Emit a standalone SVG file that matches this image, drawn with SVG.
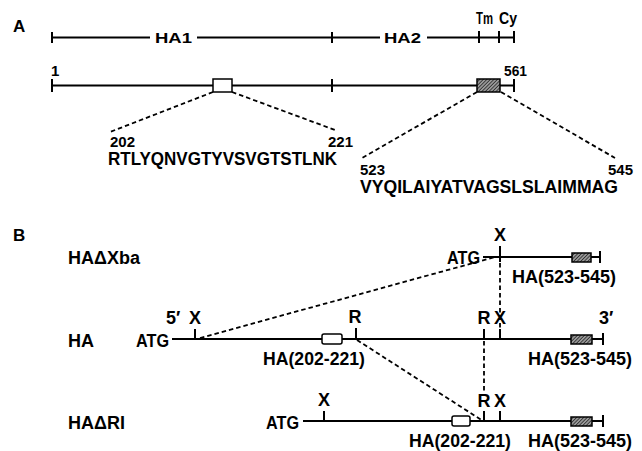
<svg xmlns="http://www.w3.org/2000/svg" width="642" height="451" viewBox="0 0 642 451">
<style>
text{font-family:"Liberation Sans",Arial,sans-serif;font-weight:bold;fill:#000}
.ln{stroke:#000;stroke-width:2;fill:none}
.tk{stroke:#000;stroke-width:2;fill:none}
.ds{stroke:#000;stroke-width:1.8;fill:none;stroke-dasharray:4.5 3}
.ob{fill:#fff;stroke:#000;stroke-width:1.5}
.hb{fill:url(#hatch);stroke:#000;stroke-width:1.5}
.lbl{font-size:18px}
.atg{font-size:18px}
.num{font-size:15px}
.seq{font-size:18px}
.mid{text-anchor:middle}
.end{text-anchor:end}
</style>
<defs>
<pattern id="hatch" patternUnits="userSpaceOnUse" width="2.5" height="2.5" patternTransform="rotate(45)">
<rect width="2.5" height="2.5" fill="#999"/>
<line x1="0" y1="0" x2="0" y2="2.5" stroke="#111" stroke-width="1.3"/>
</pattern>
</defs>

<g id="panelA-label"><text x="13" y="32" style="font-size:17px">A</text></g>

<g id="domain-bar">
<path class="ln" d="M52 37.5H150M197 37.5H380M427 37.5H514"/>
<path class="tk" d="M52 32V43M332 32V43M479 31V43M499 31V43M514 31V43"/>
<text x="155" y="43" class="num" textLength="37" lengthAdjust="spacingAndGlyphs">HA1</text>
<text x="384" y="43" class="num" textLength="37" lengthAdjust="spacingAndGlyphs">HA2</text>
<text x="476" y="24" style="font-size:16px" textLength="17" lengthAdjust="spacingAndGlyphs">Tm</text>
<text x="499" y="24" style="font-size:16px" textLength="18" lengthAdjust="spacingAndGlyphs">Cy</text>
</g>

<g id="protein-bar">
<path class="ln" d="M52 85.5H514"/>
<path class="tk" d="M52 79V92M332 79V92M514 79V92"/>
<rect class="ob" x="213" y="79" width="19" height="13"/>
<rect class="hb" x="477" y="79" width="23" height="13"/>
<text x="51" y="76" class="num">1</text>
<text x="504" y="76" class="num" textLength="23" lengthAdjust="spacingAndGlyphs">561</text>
</g>

<g id="seq1">
<text x="110" y="147" class="num">202</text>
<text x="328" y="147" class="num">221</text>
<text x="108" y="165" class="seq" textLength="229" lengthAdjust="spacingAndGlyphs">RTLYQNVGTYVSVGTSTLNK</text>
</g>

<g id="seq2">
<text x="360" y="175" class="num">523</text>
<text x="608" y="175" class="num">545</text>
<text x="360" y="193" class="seq" textLength="258" lengthAdjust="spacingAndGlyphs">VYQILAIYATVAGSLSLAIMMAG</text>
</g>

<g id="panelB-label"><text x="13" y="241" style="font-size:17px">B</text></g>

<g id="HAdXba">
<text x="68" y="264" class="lbl">HAΔXba</text>
<text x="480" y="264" class="atg end" textLength="33" lengthAdjust="spacingAndGlyphs">ATG</text>
<path class="ln" d="M483 257H600"/>
<path class="tk" d="M500 246V262M600 251V263"/>
<rect class="hb" x="572" y="253" width="19" height="9"/>
<text x="500" y="241" class="lbl mid">X</text>
<text x="512" y="283" class="lbl">HA(523-545)</text>
</g>

<g id="HA">
<text x="68" y="347" class="lbl">HA</text>
<text x="169" y="347" class="atg end" textLength="33" lengthAdjust="spacingAndGlyphs">ATG</text>
<path class="ln" d="M172 339H603"/>
<path class="tk" d="M195 329V339M356 328V339M484 329V339M500 329V339M603 333V345"/>
<rect class="ob" x="322" y="334" width="20" height="10" rx="2"/>
<rect class="hb" x="571" y="335" width="21" height="9"/>
<text x="166" y="324" class="lbl">5′</text>
<text x="195" y="324" class="lbl mid">X</text>
<text x="355" y="323" class="lbl mid">R</text>
<text x="484" y="324" class="lbl mid">R</text>
<text x="500" y="324" class="lbl mid">X</text>
<text x="599" y="324" class="lbl">3′</text>
<text x="263" y="365" class="lbl" textLength="102" lengthAdjust="spacingAndGlyphs">HA(202-221)</text>
<text x="528" y="365" class="lbl">HA(523-545)</text>
</g>

<g id="HAdRI">
<text x="68" y="429" class="lbl">HAΔRI</text>
<text x="299" y="429" class="atg end" textLength="33" lengthAdjust="spacingAndGlyphs">ATG</text>
<path class="ln" d="M303 421H603"/>
<path class="tk" d="M324 411V421M484 411V421M500 411V421M603 415V427"/>
<rect class="ob" x="452" y="416" width="18" height="10" rx="2"/>
<rect class="hb" x="571" y="417" width="21" height="9"/>
<text x="324" y="406" class="lbl mid">X</text>
<text x="484" y="407" class="lbl mid">R</text>
<text x="500" y="407" class="lbl mid">X</text>
<text x="409" y="447" class="lbl" textLength="102" lengthAdjust="spacingAndGlyphs">HA(202-221)</text>
<text x="528" y="447" class="lbl">HA(523-545)</text>
</g>

<g id="connectors">
<path class="ds" d="M213 92L110 132"/>
<path class="ds" d="M232 92L335 130"/>
<path class="ds" d="M477 92L362 158"/>
<path class="ds" d="M501 92L615 158"/>
<path class="ds" d="M200 338L495 257"/>
<path class="ds" d="M500 263V329"/>
<path class="ds" d="M357 340L483 421"/>
<path class="ds" d="M484 341V393"/>
</g>
</svg>
